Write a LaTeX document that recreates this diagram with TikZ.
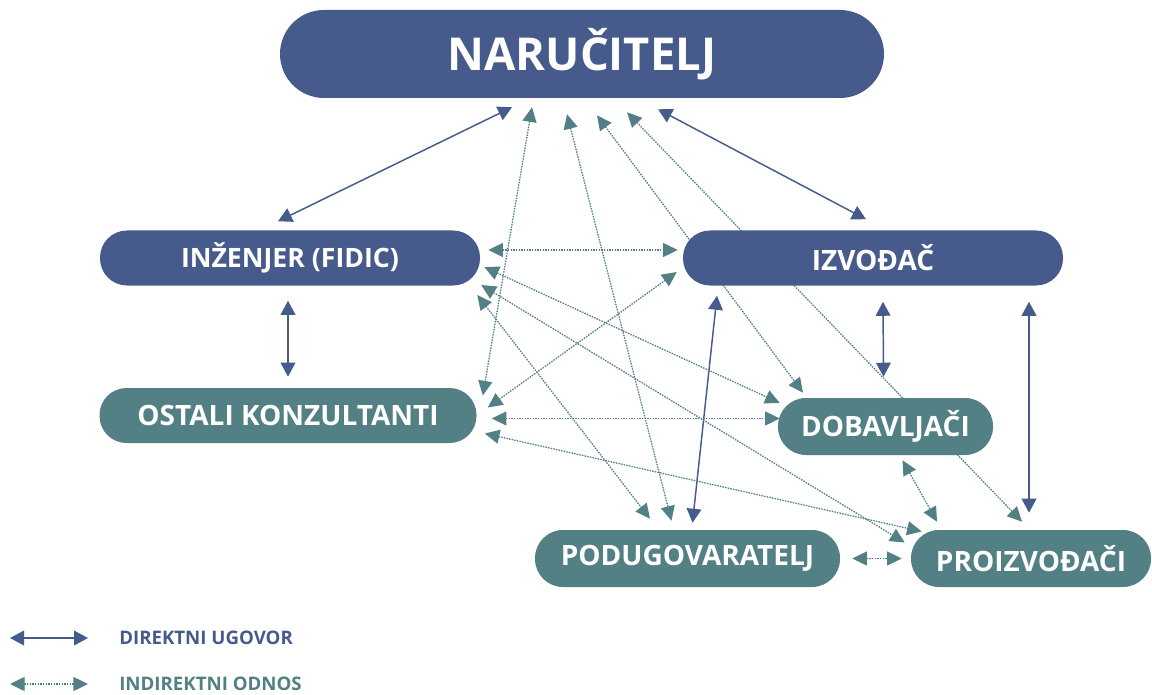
\documentclass[tikz,border=0pt]{standalone}
\usepackage{fontspec}
\setmainfont{Open Sans}
\usetikzlibrary{arrows.meta,calc,backgrounds}
\definecolor{navy}{HTML}{465A8C}
\definecolor{petrol}{HTML}{538084}
\newlength{\pxu}
\setlength{\pxu}{0.75pt}
\tikzset{
  party/.style={fill=#1,rounded corners=27\pxu,minimum height=55\pxu,inner sep=0pt,text=white,font=\fontsize{21}{21}\selectfont\bfseries},
  direct/.style={{Triangle[length=10.5pt,width=11pt]}-{Triangle[length=10.5pt,width=11pt]},line width=1.1pt,draw=navy,fill=navy},
  indirect/.style={{Triangle[length=11pt,width=10.5pt]}-{Triangle[length=11pt,width=10.5pt]},line width=1pt,dash pattern=on 1pt off 1pt,draw=petrol,fill=petrol},
  legendtext/.style={anchor=west,inner sep=0pt,font=\fontsize{14}{14}\selectfont\bfseries}
}
\begin{document}
\begin{tikzpicture}[x=0.75pt,y=-0.75pt]
  \useasboundingbox (0,0) rectangle (1152,695);
  % parties
  \node[party=navy,minimum width=604\pxu,minimum height=88\pxu,rounded corners=44\pxu,font=\fontsize{34}{34}\selectfont\bfseries] (nar) at (582,54) {NARUČITELJ};
  \node[party=navy,minimum width=380\pxu,font=\fontsize{20}{20}\selectfont\bfseries] (inz) at (290,258) {INŽENJER (FIDIC)};
  \node[party=navy,minimum width=380\pxu] (izv) at (873,258) {IZVOĐAČ};
  \node[party=petrol,minimum width=377\pxu] (ost) at (288,415.5) {OSTALI KONZULTANTI};
  \node[party=petrol,minimum width=215\pxu,minimum height=57\pxu,rounded corners=28\pxu] (dob) at (885.5,426.5) {DOBAVLJAČI};
  \node[party=petrol,minimum width=305\pxu,minimum height=57\pxu,rounded corners=28\pxu] (pod) at (687.5,558.5) {PODUGOVARATELJ};
  \node[party=petrol,minimum width=240\pxu,minimum height=57\pxu,rounded corners=28\pxu] (pro) at (1031,558.5) {PROIZVOĐAČI};

  \begin{scope}[on background layer]
    % direct contracts
    \draw[direct] ($(nar.south)+(-70,9)$) -- ($(inz.north)+(-12,-9)$);
    \draw[direct] ($(nar.south)+(76,11)$) -- ($(izv.north)+(-7,-11)$);
    \draw[direct] ($(inz.south)+(-2,15)$) -- ($(ost.north)+(0,-11)$);
    \draw[direct] ($(izv.south)+(-156,10)$) -- ($(pod.north)+(5,-7)$);
    \draw[direct] ($(izv.south)+(10,16)$) -- ($(dob.north)+(-2,-21)$);
    \draw[direct] ($(izv.south)+(156,16)$) -- ($(pro.north)+(-2,-17)$);
    % indirect relations
    \draw[indirect] ($(nar.south)+(-50,9)$) -- ($(ost.east)+(6,-20)$);
    \draw[indirect] ($(nar.south)+(-15,16)$) -- ($(pod.north)+(-16,-9)$);
    \draw[indirect] ($(nar.south)+(15,17)$) -- ($(dob.north)+(-82.5,-5)$);
    \draw[indirect] ($(nar.south)+(45,14)$) -- ($(pro.north)+(-9,-8)$);
    \draw[indirect] ($(inz.east)+(8,-8)$) -- ($(izv.west)+(-5,-8)$);
    \draw[indirect] ($(inz.east)+(4,9)$) -- ($(dob.west)+(2,-23.5)$);
    \draw[indirect] ($(inz.east)+(1,27)$) -- ($(pro.west)+(-6,-16)$);
    \draw[indirect] ($(inz.east)+(-3,37)$) -- ($(pod.north)+(-37.5,-11)$);
    \draw[indirect] ($(ost.east)+(11,-8)$) -- ($(izv.west)+(-6,14)$);
    \draw[indirect] ($(ost.east)+(15,3)$) -- ($(dob.west)+(2,-8)$);
    \draw[indirect] ($(ost.east)+(8,18)$) -- ($(pro.west)+(11,-27)$);
    \draw[indirect] ($(dob.south)+(17,5)$) -- ($(pro.north)+(-94,-8)$);
    \draw[indirect] ($(pod.east)+(12,0)$) -- ($(pro.west)+(-9,0)$);
  \end{scope}

  % legend
  \coordinate (d1) at (10,638);
  \coordinate (d2) at (88,638);
  \coordinate (i1) at (10,684);
  \coordinate (i2) at (88,684);
  \draw[direct] (d1) -- (d2);
  \draw[indirect] (i1) -- (i2);
  \node[legendtext,text=navy] (lgdirect) at (119,638) {DIREKTNI UGOVOR};
  \node[legendtext,text=petrol] (lgindirect) at (119,684) {INDIREKTNI ODNOS};
\end{tikzpicture}
\end{document}
